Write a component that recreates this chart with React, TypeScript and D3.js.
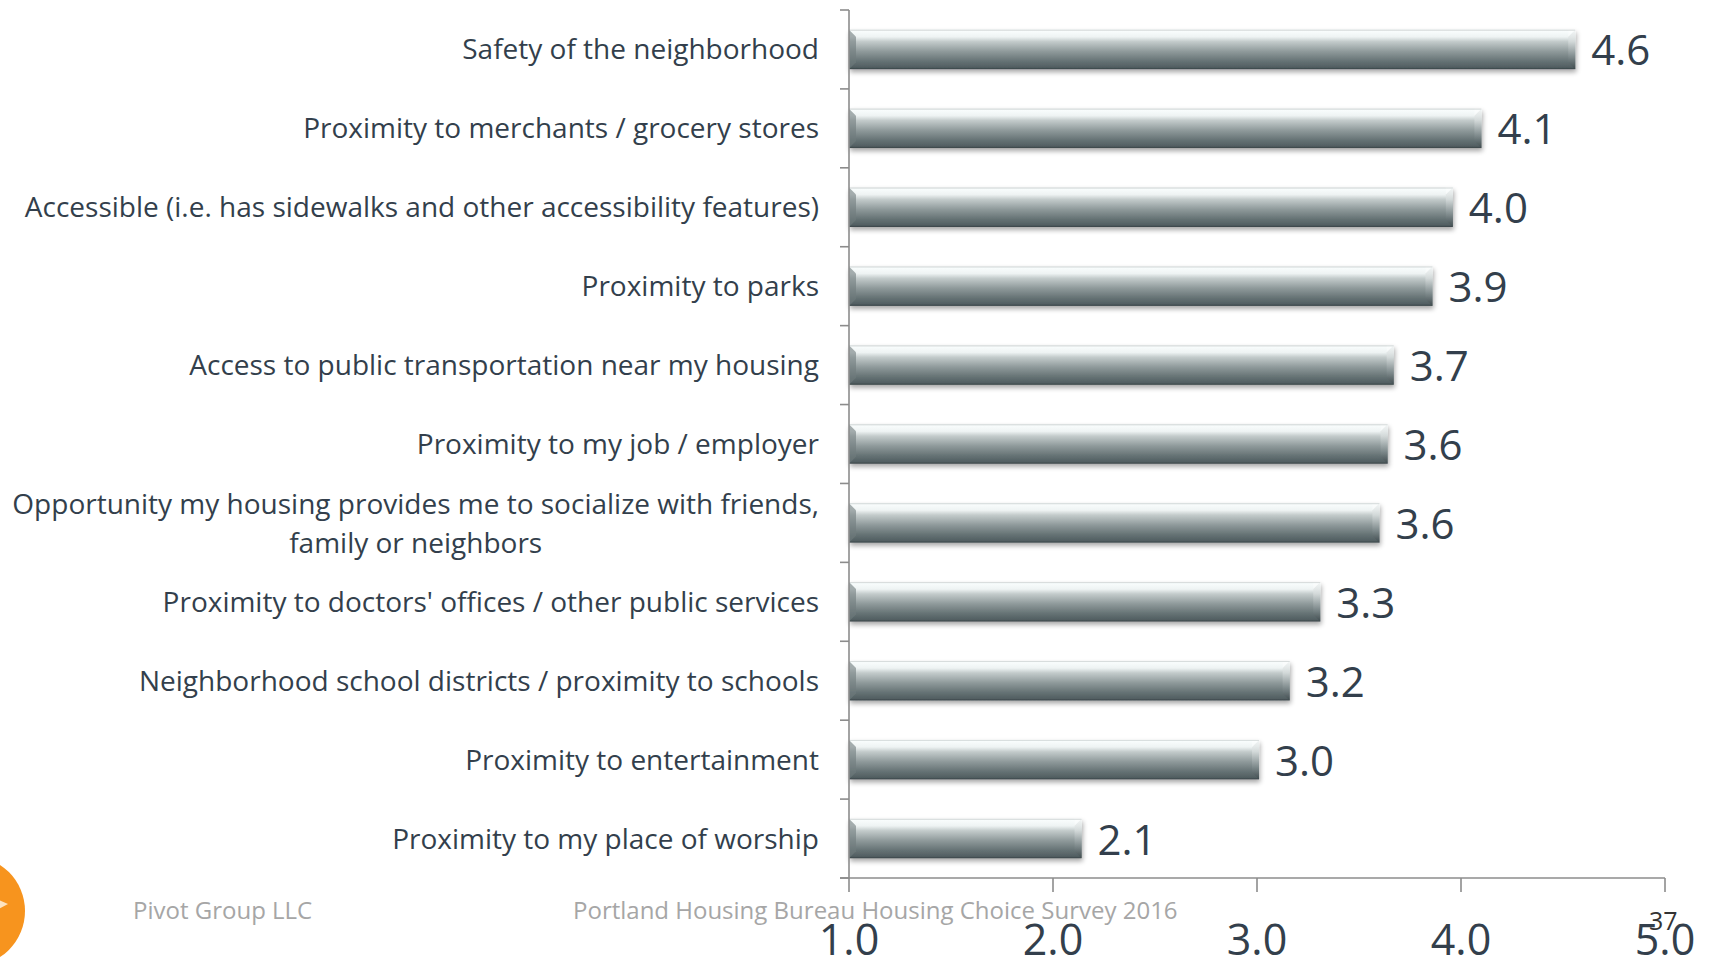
import React, { useEffect, useRef } from "react";
import * as d3 from "d3";

const categories: string[][] = [
  ["Safety of the neighborhood"],
  ["Proximity to merchants / grocery stores"],
  ["Accessible (i.e. has sidewalks and other accessibility features)"],
  ["Proximity to parks"],
  ["Access to public transportation near my housing"],
  ["Proximity to my job / employer"],
  ["Opportunity my housing provides me to socialize with friends,", "family or neighbors"],
  ["Proximity to doctors' offices / other public services"],
  ["Neighborhood school districts / proximity to schools"],
  ["Proximity to entertainment"],
  ["Proximity to my place of worship"],
];
const values: number[] = [4.56, 4.1, 3.96, 3.86, 3.67, 3.64, 3.6, 3.31, 3.16, 3.01, 2.14];
const xTicks: number[] = [1, 2, 3, 4, 5];
const footerLeft = "Pivot Group LLC";
const footerCenter = "Portland Housing Bureau Housing Choice Survey 2016";
const pageNumber = "37";

const W = 1710;
const H = 966;
const FONT = "'Open Sans', 'Noto Sans', sans-serif";
const TEXT = "#333f4c";

export default function App() {
  const ref = useRef<SVGSVGElement | null>(null);

  useEffect(() => {
    const svg = d3.select(ref.current);
    svg.selectAll("*").remove();

    const x = d3.scaleLinear().domain([1, 5]).range([849, 1665]);
    const y = d3
      .scaleBand<number>()
      .domain(d3.range(categories.length))
      .range([10, 878])
      .paddingInner(0.5)
      .paddingOuter(0.25);
    const step = y.step();

    const defs = svg.append("defs");
    const grad = defs
      .append("linearGradient")
      .attr("id", "barGrad")
      .attr("x1", 0)
      .attr("y1", 0)
      .attr("x2", 0)
      .attr("y2", 1);
    [
      [0, "#dfe4e4"],
      [0.04, "#f8fcfc"],
      [0.18, "#eef3f3"],
      [0.3, "#c3cbcb"],
      [0.55, "#8f9a9b"],
      [0.8, "#657274"],
      [0.95, "#525f62"],
      [1, "#384346"],
    ].forEach(([o, c]) => grad.append("stop").attr("offset", o as number).attr("stop-color", c as string));

    const endGrad = defs
      .append("linearGradient")
      .attr("id", "endGrad")
      .attr("x1", 0)
      .attr("y1", 0)
      .attr("x2", 0)
      .attr("y2", 1);
    [
      [0, "#f2f5f5"],
      [0.3, "#d5dbdb"],
      [0.7, "#7d898b"],
      [1, "#3e494c"],
    ].forEach(([o, c]) => endGrad.append("stop").attr("offset", o as number).attr("stop-color", c as string));

    const shadow = defs.append("filter").attr("id", "shadow").attr("x", "-5%").attr("y", "-30%").attr("width", "110%").attr("height", "170%");
    shadow.append("feGaussianBlur").attr("in", "SourceAlpha").attr("stdDeviation", 2.5);
    shadow.append("feOffset").attr("dx", 1).attr("dy", 3).attr("result", "ob");
    shadow.append("feComponentTransfer").append("feFuncA").attr("type", "linear").attr("slope", 0.35);
    const merge = shadow.append("feMerge");
    merge.append("feMergeNode");
    merge.append("feMergeNode").attr("in", "SourceGraphic");

    // Bars
    const bars = svg.append("g");
    values.forEach((v, i) => {
      const x0 = x(1);
      const x1 = x(v);
      const y0 = y(i)!;
      const bh = y.bandwidth();
      const g = bars.append("g").attr("filter", "url(#shadow)");
      g.append("rect").attr("x", x0).attr("y", y0).attr("width", x1 - x0).attr("height", bh).attr("fill", "url(#barGrad)");
      const b = 7;
      g.append("polygon")
        .attr("points", `${x1 - b},${y0 + b} ${x1},${y0} ${x1},${y0 + bh} ${x1 - b},${y0 + bh - b}`)
        .attr("fill", "url(#endGrad)")
        .attr("opacity", 0.85);
      g.append("polygon")
        .attr("points", `${x1 - b},${y0 + b} ${x1},${y0} ${x1 - b},${y0}`)
        .attr("fill", "#ffffff")
        .attr("opacity", 0.4);
      g.append("polygon")
        .attr("points", `${x0},${y0} ${x0 + b},${y0 + b} ${x0 + b},${y0 + bh - b} ${x0},${y0 + bh}`)
        .attr("fill", "#6f7b7d")
        .attr("opacity", 0.6);
      g.append("line")
        .attr("x1", x0)
        .attr("x2", x1)
        .attr("y1", y0 + 0.5)
        .attr("y2", y0 + 0.5)
        .attr("stroke", "#d8dddd")
        .attr("stroke-width", 1);
    });

    // Axes
    const axisColor = "#8c8c8c";
    const ax = svg.append("g").attr("stroke", axisColor).attr("stroke-width", 1.6);
    ax.append("line").attr("x1", x(1)).attr("x2", x(1)).attr("y1", 10).attr("y2", 878);
    ax.append("line").attr("x1", x(1) - 9).attr("x2", x(5)).attr("y1", 878).attr("y2", 878);
    for (let k = 0; k <= categories.length; k++) {
      const yy = 10 + k * step;
      ax.append("line").attr("x1", x(1) - 9).attr("x2", x(1)).attr("y1", yy).attr("y2", yy);
    }
    xTicks.forEach((t) => {
      ax.append("line").attr("x1", x(t)).attr("x2", x(t)).attr("y1", 878).attr("y2", 892);
    });

    // Category labels
    const labelX = 819;
    const lab = svg.append("g").attr("font-family", FONT).attr("font-size", 28).attr("fill", TEXT);
    categories.forEach((lines, i) => {
      const cy = y(i)! + y.bandwidth() / 2;
      if (lines.length === 1) {
        lab.append("text").attr("x", labelX).attr("y", cy + 10).attr("text-anchor", "end").text(lines[0]);
      } else {
        const t1 = lab
          .append("text")
          .attr("x", labelX)
          .attr("y", cy - 19 + 10)
          .attr("text-anchor", "end")
          .text(lines[0]);
        const w = (t1.node() as SVGTextElement).getComputedTextLength();
        const cx = labelX - w / 2;
        lab.append("text").attr("x", cx).attr("y", cy + 20 + 10).attr("text-anchor", "middle").text(lines[1]);
      }
    });

    // Value labels
    const fmt = d3.format(".1f");
    const vl = svg.append("g").attr("font-family", FONT).attr("font-size", 42).attr("fill", TEXT);
    values.forEach((v, i) => {
      const cy = y(i)! + y.bandwidth() / 2;
      vl.append("text").attr("x", x(v) + 16).attr("y", cy + 16).text(fmt(v));
    });

    // Footer
    const ft = svg.append("g").attr("font-family", FONT);
    ft.append("text").attr("x", 133).attr("y", 919).attr("font-size", 24).attr("fill", "#a6a6a6").text(footerLeft);
    ft.append("text").attr("x", 573).attr("y", 919).attr("font-size", 24).attr("fill", "#a6a6a6").text(footerCenter);

    // X tick labels
    const xl = svg.append("g").attr("font-family", FONT).attr("font-size", 43).attr("fill", TEXT);
    xTicks.forEach((t) => {
      xl.append("text").attr("x", x(t)).attr("y", 955).attr("text-anchor", "middle").text(fmt(t));
    });

    ft.append("text").attr("x", 1649).attr("y", 930).attr("font-size", 25).attr("fill", "#333333").text(pageNumber);

    // Orange logo circle
    const logo = svg.append("g");
    logo.append("circle").attr("cx", -30).attr("cy", 911).attr("r", 55).attr("fill", "#f7941e");
    logo.append("polygon").attr("points", "-20,892 8,904 -20,919").attr("fill", "#fde3c0");
  }, []);

  return (
    <svg
      ref={ref}
      width={W}
      height={H}
      style={{ position: "absolute", left: 0, top: 0, background: "#ffffff" }}
    />
  );
}
